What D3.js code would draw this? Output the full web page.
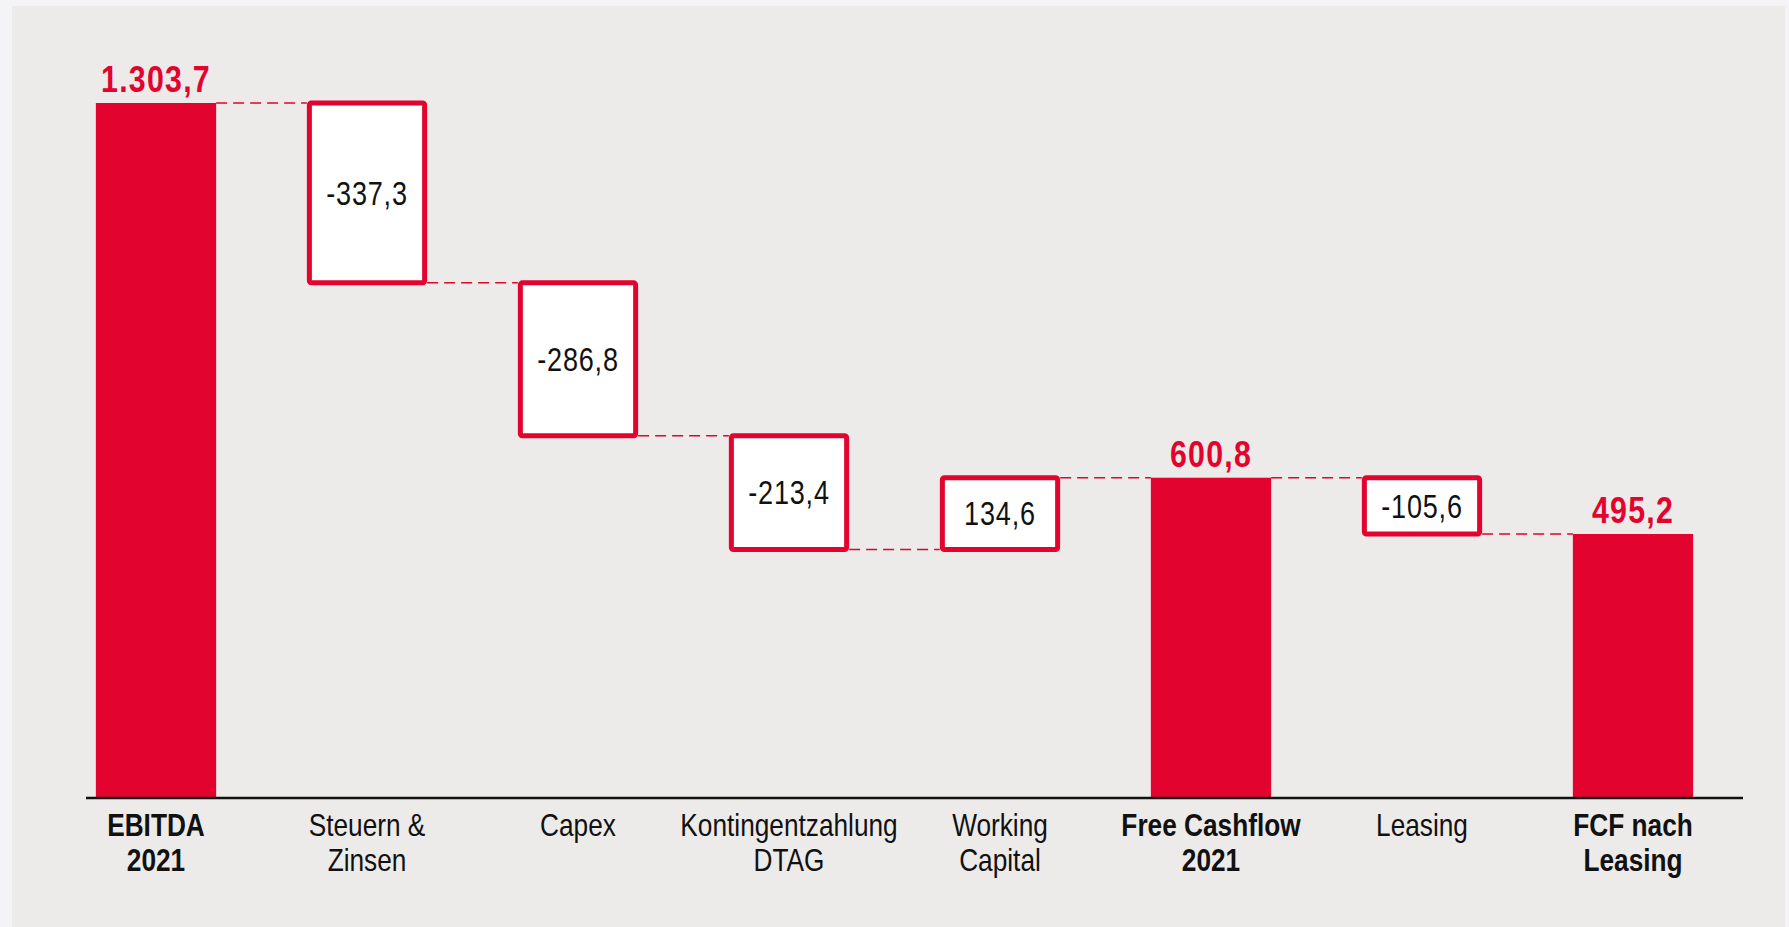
<!DOCTYPE html>
<html lang="de">
<head>
  <meta charset="UTF-8">
  <title>Free Cashflow 2021</title>
  <script src="https://d3js.org/d3.v7.min.js"></script>
  <style>
    body {
      margin: 0;
      background-color: #f4f4f6;
      font-family: 'Liberation Sans Narrow', 'Arial Narrow', 'Liberation Sans', sans-serif;
    }

    .connector {
      stroke: #e2032e;
      stroke-width: 1.6;
      stroke-dasharray: 11 6;
      fill: none;
    }

    .axis-line {
      stroke: #111;
      stroke-width: 2.5;
    }

    .cat-label {
      font-size: 32px;
      fill: #111;
    }
  </style>
</head>
<body>
  <svg width="1789" height="927"></svg>

  <script>
    // data
    const categories = [
      ["EBITDA", "2021"],
      ["Steuern &", "Zinsen"],
      ["Capex"],
      ["Kontingentzahlung", "DTAG"],
      ["Working", "Capital"],
      ["Free Cashflow", "2021"],
      ["Leasing"],
      ["FCF nach", "Leasing"]
    ];
    const values = [1303.7, -337.3, -286.8, -213.4, 134.6, 600.8, -105.6, 495.2];
    const isTotal = [true, false, false, false, false, true, false, true];

    const red = "#e2032e";
    // no narrow font installed, so squeeze the regular one
    const squeeze = 0.82;

    const svg = d3.select("svg");

    // panel background
    svg.append("rect")
      .attr("x", 12)
      .attr("y", 6)
      .attr("width", 1773)
      .attr("height", 927)
      .attr("fill", "#ecebe9");

    const de = d3.formatLocale({
      decimal: ",",
      thousands: ".",
      grouping: [3],
      currency: ["", " €"],
      minus: "-"
    });
    const fmt = de.format(",.1f");

    // running totals
    let running = 0;
    const bars = values.map((v, i) => {
      let start, end;
      if (isTotal[i]) {
        start = 0;
        end = v;
      } else {
        start = running;
        end = running + v;
      }
      running = end;
      return { i, value: v, start, end, total: isTotal[i], label: categories[i] };
    });

    const x = d3.scaleBand()
      .domain(d3.range(categories.length))
      .range([50.5, 1738.5])
      .paddingInner(0.43)
      .paddingOuter(0.215);

    const y = d3.scaleLinear()
      .domain([0, d3.max(values)])
      .range([798, 103]);

    const cx = d => x(d.i) + x.bandwidth() / 2;

    // connectors
    svg.append("g")
      .selectAll("line")
      .data(bars.slice(0, -1))
      .enter()
      .append("line")
      .attr("class", "connector")
      .attr("x1", d => x(d.i) + x.bandwidth())
      .attr("x2", d => x(d.i + 1))
      .attr("y1", d => y(d.end))
      .attr("y2", d => y(d.end));

    // total bars
    svg.append("g")
      .selectAll("rect")
      .data(bars.filter(d => d.total))
      .enter()
      .append("rect")
      .attr("x", d => x(d.i))
      .attr("y", d => y(d.end))
      .attr("width", x.bandwidth())
      .attr("height", d => y(0) - y(d.end))
      .attr("fill", red);

    // delta boxes
    svg.append("g")
      .selectAll("rect")
      .data(bars.filter(d => !d.total))
      .enter()
      .append("rect")
      .attr("x", d => x(d.i) + 2.5)
      .attr("y", d => y(Math.max(d.start, d.end)))
      .attr("width", x.bandwidth() - 5)
      .attr("height", d => Math.abs(y(d.start) - y(d.end)))
      .attr("rx", 2)
      .attr("fill", "#fff")
      .attr("stroke", red)
      .attr("stroke-width", 5);

    // axis line
    svg.append("line")
      .attr("class", "axis-line")
      .attr("x1", 86)
      .attr("x2", 1743)
      .attr("y1", y(0))
      .attr("y2", y(0));

    // total labels
    svg.append("g")
      .selectAll("text")
      .data(bars.filter(d => d.total))
      .enter()
      .append("text")
      .attr("transform", d => `translate(${cx(d)},${y(d.end) - 11}) scale(${squeeze},1)`)
      .attr("text-anchor", "middle")
      .attr("fill", red)
      .style("font-size", "37px")
      .style("font-weight", "bold")
      .style("letter-spacing", "1.5px")
      .text(d => fmt(d.value));

    // delta labels
    svg.append("g")
      .selectAll("text")
      .data(bars.filter(d => !d.total))
      .enter()
      .append("text")
      .attr("transform", d => `translate(${cx(d)},${(y(d.start) + y(d.end)) / 2}) scale(${squeeze},1)`)
      .attr("dy", "0.36em")
      .attr("text-anchor", "middle")
      .attr("fill", "#111")
      .style("font-size", "33px")
      .style("letter-spacing", "1px")
      .text(d => fmt(d.value));

    // category labels
    const cats = svg.append("g")
      .selectAll("text")
      .data(bars)
      .enter()
      .append("text")
      .attr("class", "cat-label")
      .attr("transform", d => `translate(${cx(d)},836) scale(${squeeze},1)`)
      .attr("text-anchor", "middle")
      .style("font-weight", d => d.total ? "bold" : "normal");

    cats.selectAll("tspan")
      .data(d => d.label)
      .enter()
      .append("tspan")
      .attr("x", 0)
      .attr("y", (d, j) => j * 35)
      .text(d => d);
  </script>
</body>
</html>
